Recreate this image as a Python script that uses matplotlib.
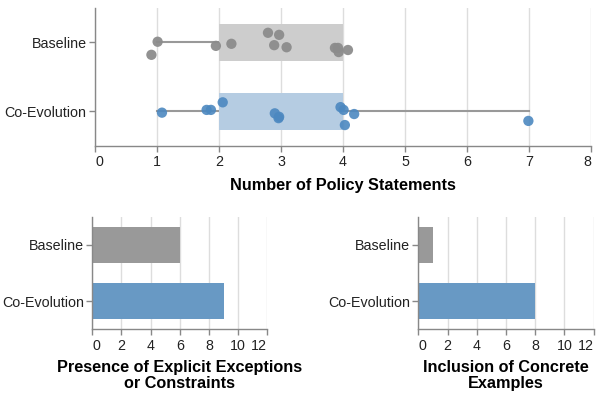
import matplotlib
matplotlib.use("Agg")
import matplotlib.pyplot as plt
import numpy as np

plt.rcParams['font.family'] = ['Liberation Sans', 'DejaVu Sans']

groups = ["Baseline", "Co-Evolution"]

# individual policy-statement counts (as plotted, with jitter) and vertical jitter
baseline_x = [1.01, 0.91, 1.95, 2.20, 2.79, 2.97, 2.89, 3.09, 3.87, 3.92, 3.93, 4.08]
baseline_jit = [-0.01, 0.18, 0.05, 0.02, -0.14, -0.11, 0.04, 0.07, 0.08, 0.08, 0.14, 0.11]
coevo_x = [1.08, 1.80, 1.87, 2.06, 2.90, 2.97, 2.96, 3.96, 4.01, 4.18, 4.03, 6.99]
coevo_jit = [0.02, -0.02, -0.02, -0.13, 0.03, 0.08, 0.10, -0.06, -0.02, 0.04, 0.20, 0.14]

# box statistics
q1 = [2, 2]
q3 = [4, 4]
whisk_lo = [1, 1]
whisk_hi = [4, 7]

# bar values
exceptions = [6, 9]
examples = [1, 8]

gray_pt = "#8c8c8c"
blue_pt = "#4c88c0"
box_cols = ["#cdcdcd", "#b5cce2"]
bar_cols = ["#999999", "#6899c4"]
grid_c = "#dddddd"
axis_c = "#888888"
TICK_FS = 10.3
TITLE_FS = 11.7

fig = plt.figure(figsize=(6, 3.98), dpi=100)

def style(ax):
    for s in ["top", "right"]:
        ax.spines[s].set_visible(False)
    for s in ["left", "bottom"]:
        ax.spines[s].set_color(axis_c)
        ax.spines[s].set_linewidth(1)
    ax.tick_params(axis="both", colors=axis_c, labelcolor="#222222", labelsize=TICK_FS,
                   length=4, width=1, pad=2)
    ax.tick_params(axis="x", pad=3)
    ax.grid(axis="x", color=grid_c, linewidth=1)
    ax.set_axisbelow(True)

def flush(ax):
    labs = ax.get_xticklabels()
    labs[0].set_horizontalalignment("left")
    labs[-1].set_horizontalalignment("right")

# top boxplot
ax = fig.add_axes([95/600, 1-145.7/398, 496/600, 137.7/398])
style(ax)
for i in range(2):
    ax.plot([whisk_lo[i], q1[i]], [i, i], color="#999999", lw=1.5, zorder=1)
    ax.plot([q3[i], whisk_hi[i]], [i, i], color="#999999", lw=1.5, zorder=1)
    ax.barh(i, q3[i]-q1[i], left=q1[i], height=0.54, color=box_cols[i], zorder=1.5)
ax.scatter(baseline_x, np.zeros(len(baseline_x)) + np.array(baseline_jit), s=55,
           color=gray_pt, alpha=0.95, edgecolors="none", zorder=3)
ax.scatter(coevo_x, np.ones(len(coevo_x)) + np.array(coevo_jit), s=55,
           color=blue_pt, alpha=0.9, edgecolors="none", zorder=3)
ax.set_xlim(0, 8)
ax.set_ylim(1.5, -0.5)
ax.set_yticks([0, 1])
ax.set_yticklabels(groups)
ax.set_xticks(range(0, 9))
flush(ax)
ax.set_xlabel("Number of Policy Statements", fontsize=TITLE_FS, fontweight="bold", labelpad=6)

# bottom-left bars
ax2 = fig.add_axes([92.3/600, 1-329.3/398, 175/600, 112.6/398])
style(ax2)
ax2.barh([0, 1], exceptions, height=0.65, color=bar_cols, zorder=2)
ax2.set_xlim(0, 12)
ax2.set_ylim(1.5, -0.5)
ax2.set_yticks([0, 1])
ax2.set_yticklabels(groups)
ax2.set_xticks(range(0, 13, 2))
flush(ax2)
ax2.set_xlabel("Presence of Explicit Exceptions\nor Constraints", fontsize=TITLE_FS,
               fontweight="bold", labelpad=5, linespacing=1.1)

# bottom-right bars
ax3 = fig.add_axes([418.3/600, 1-329.3/398, 175.4/600, 112.6/398])
style(ax3)
ax3.barh([0, 1], examples, height=0.65, color=bar_cols, zorder=2)
ax3.set_xlim(0, 12)
ax3.set_ylim(1.5, -0.5)
ax3.set_yticks([0, 1])
ax3.set_yticklabels(groups)
ax3.set_xticks(range(0, 13, 2))
flush(ax3)
ax3.set_xlabel("Inclusion of Concrete\nExamples", fontsize=TITLE_FS,
               fontweight="bold", labelpad=5, linespacing=1.1)

fig.savefig("out.png", dpi=100)
